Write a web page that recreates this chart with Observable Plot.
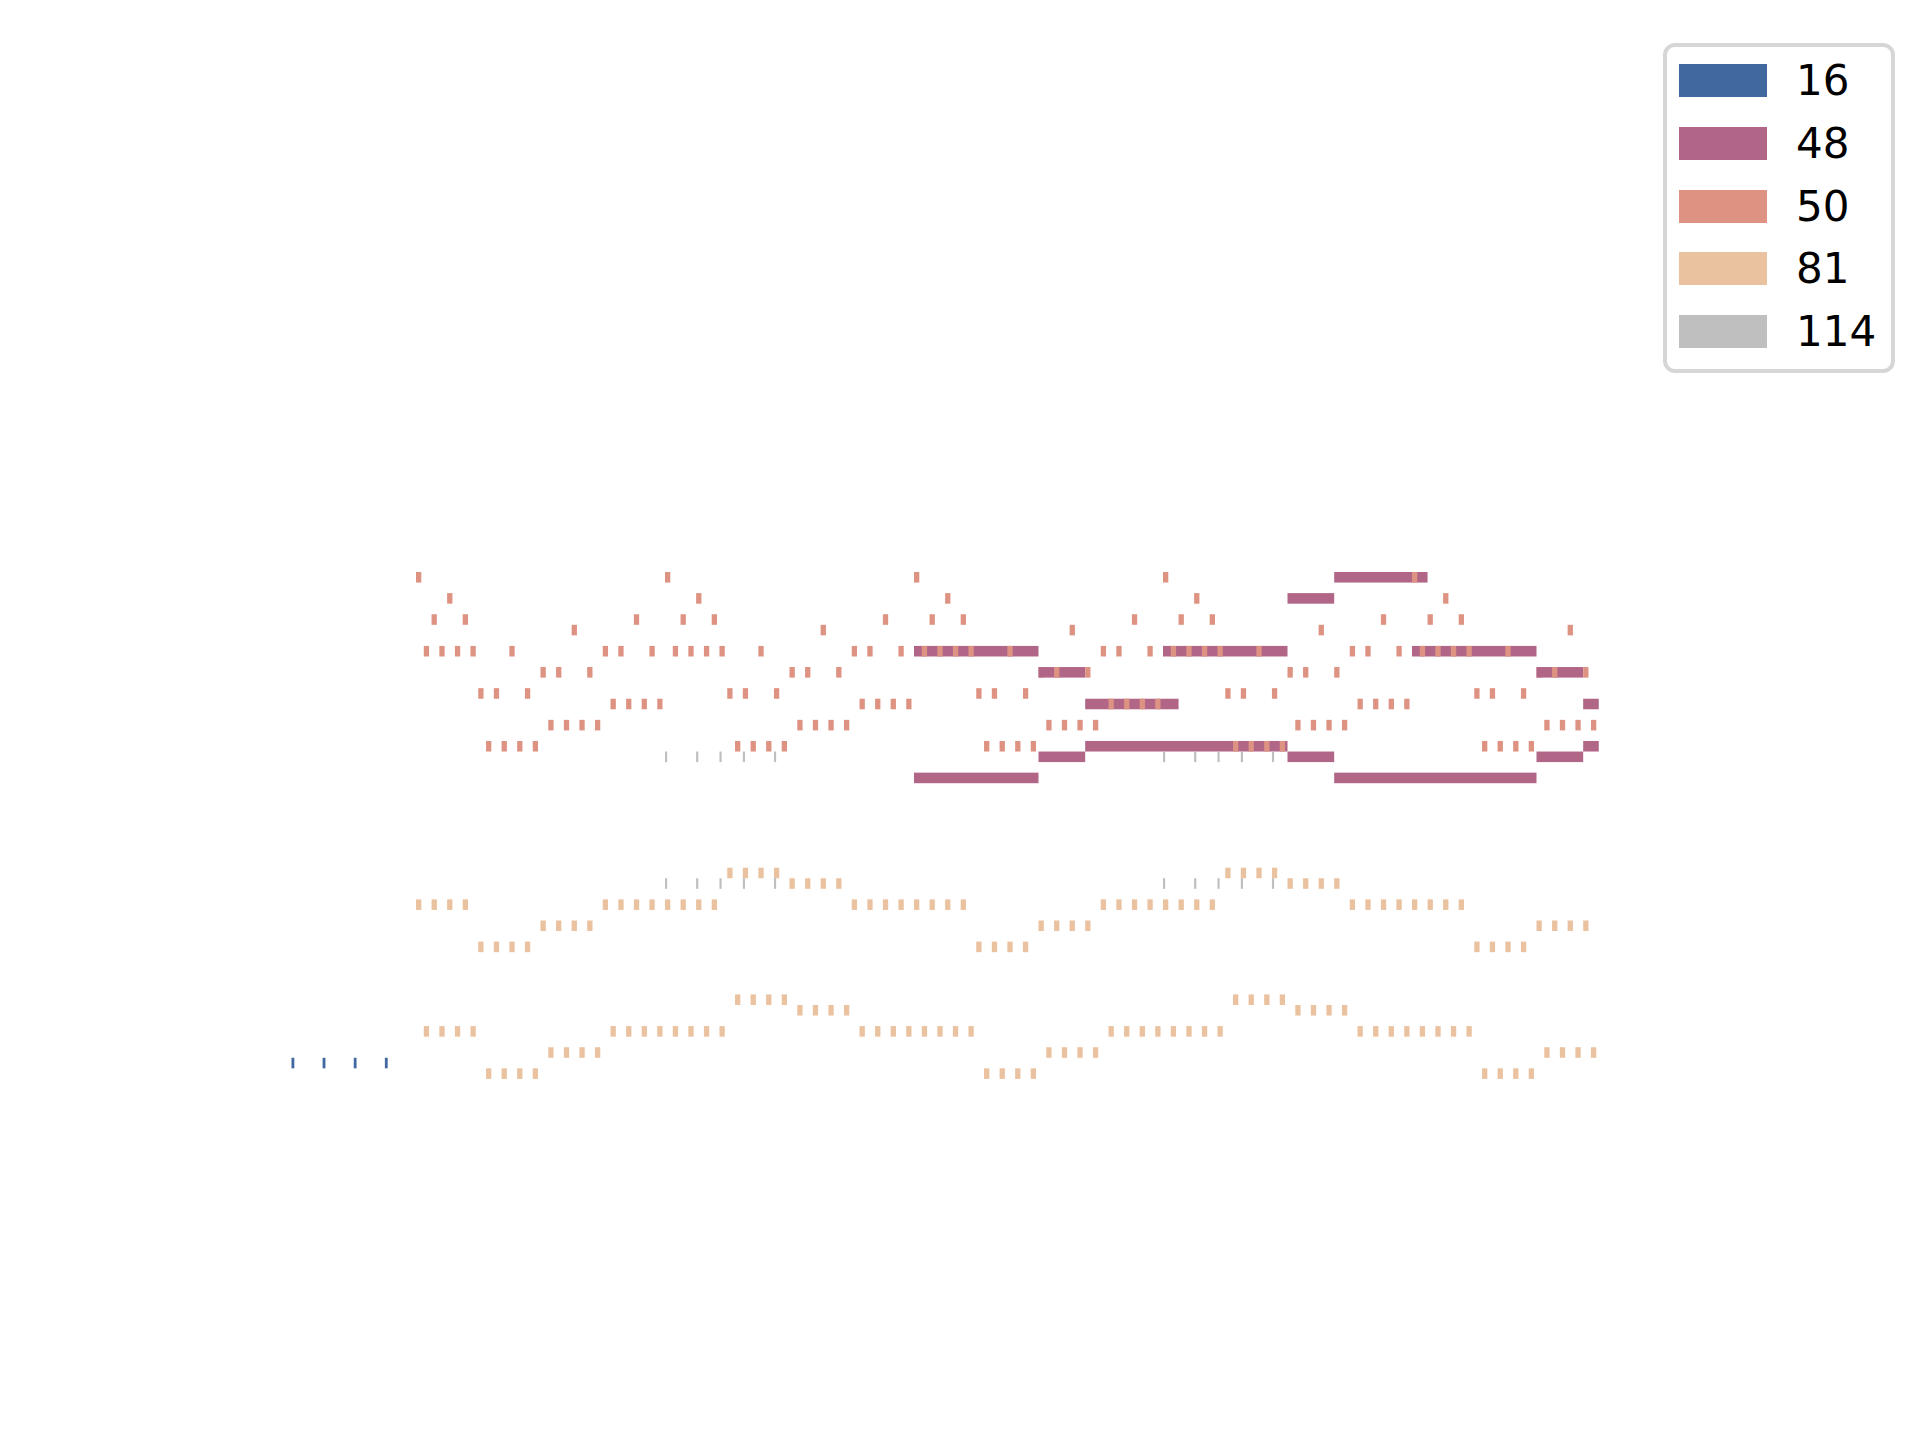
<!DOCTYPE html>
<html>
<head>
<meta charset="utf-8">
<script src="https://cdn.jsdelivr.net/npm/d3@7"></script>
<script src="https://cdn.jsdelivr.net/npm/@observablehq/plot@0.6"></script>
<style>
  html, body { margin: 0; padding: 0; background: #ffffff; }
  #wrap { position: relative; width: 1920px; height: 1440px; background: #ffffff; }
  #legend {
    position: absolute; left: 1663px; top: 43px; width: 232px; height: 330px;
    box-sizing: border-box; border: 4px solid #d6d6d6; border-radius: 12px;
    background: #ffffff; padding: 17px 0 0 12px;
    font-family: "DejaVu Sans", sans-serif; font-size: 42px; color: #000;
  }
  .item { display: flex; align-items: flex-start; height: 33px; margin-bottom: 29.75px; }
  .sw { width: 88px; height: 33px; flex: none; }
  .lab { margin-left: 29px; line-height: 33px; height: 33px; white-space: nowrap; }
</style>
</head>
<body>
<div id="wrap"></div>
<script>
// Instruments (MIDI program numbers) and their colours
const programs = [16, 48, 50, 81, 114];
const colors = ["#41699f", "#b16688", "#de9282", "#ebc29f", "#bfbfbf"];

// Program 16: [start (beats), pitch]
const notes16 = [[0, 30], [1, 30], [2, 30], [3, 30]];
const dur16 = 0.09;

// Program 48: [start, pitch, duration]
const notes48 = [
  [20, 69, 4], [20, 57, 4],
  [24, 67, 1.5], [24, 59, 1.5],
  [25.5, 64, 3], [25.5, 60, 6.5],
  [28, 69, 4],
  [32, 74, 1.5], [32, 59, 1.5],
  [33.5, 76, 3], [33.5, 57, 6.5],
  [36, 69, 4],
  [40, 67, 1.5], [40, 59, 1.5],
  [41.5, 64, 0.5], [41.5, 60, 0.5]
];

// Program 50: [start, pitch]
const notes50 = [
  [4,76],[4.25,69],[4.5,72],[4.75,69],[5,74],[5.25,69],[5.5,72],[5.75,69],[6,65],[6.25,60],[6.5,65],[6.75,60],[7,69],[7.25,60],[7.5,65],[7.75,60],
  [8,67],[8.25,62],[8.5,67],[8.75,62],[9,71],[9.25,62],[9.5,67],[9.75,62],[10,69],[10.25,64],[10.5,69],[10.75,64],[11,72],[11.25,64],[11.5,69],[11.75,64],
  [12,76],[12.25,69],[12.5,72],[12.75,69],[13,74],[13.25,69],[13.5,72],[13.75,69],[14,65],[14.25,60],[14.5,65],[14.75,60],[15,69],[15.25,60],[15.5,65],[15.75,60],
  [16,67],[16.25,62],[16.5,67],[16.75,62],[17,71],[17.25,62],[17.5,67],[17.75,62],[18,69],[18.25,64],[18.5,69],[18.75,64],[19,72],[19.25,64],[19.5,69],[19.75,64],
  [20,76],[20.25,69],[20.5,72],[20.75,69],[21,74],[21.25,69],[21.5,72],[21.75,69],[22,65],[22.25,60],[22.5,65],[22.75,60],[23,69],[23.25,60],[23.5,65],[23.75,60],
  [24,67],[24.25,62],[24.5,67],[24.75,62],[25,71],[25.25,62],[25.5,67],[25.75,62],[26,69],[26.25,64],[26.5,69],[26.75,64],[27,72],[27.25,64],[27.5,69],[27.75,64],
  [28,76],[28.25,69],[28.5,72],[28.75,69],[29,74],[29.25,69],[29.5,72],[29.75,69],[30,65],[30.25,60],[30.5,65],[30.75,60],[31,69],[31.25,60],[31.5,65],[31.75,60],
  [32,67],[32.25,62],[32.5,67],[32.75,62],[33,71],[33.25,62],[33.5,67],[33.75,62],[34,69],[34.25,64],[34.5,69],[34.75,64],[35,72],[35.25,64],[35.5,69],[35.75,64],
  [36,76],[36.25,69],[36.5,72],[36.75,69],[37,74],[37.25,69],[37.5,72],[37.75,69],[38,65],[38.25,60],[38.5,65],[38.75,60],[39,69],[39.25,60],[39.5,65],[39.75,60],
  [40,67],[40.25,62],[40.5,67],[40.75,62],[41,71],[41.25,62],[41.5,67],[41.75,62]
];
const dur50 = 0.17;

// Program 81: [start, pitch]
const notes81 = [
  [4,45],[4.5,45],[5,45],[5.5,45],[6,41],[6.5,41],[7,41],[7.5,41],[8,43],[8.5,43],[9,43],[9.5,43],
  [10,45],[10.5,45],[11,45],[11.5,45],[12,45],[12.5,45],[13,45],[13.5,45],[14,48],[14.5,48],[15,48],[15.5,48],
  [16,47],[16.5,47],[17,47],[17.5,47],[18,45],[18.5,45],[19,45],[19.5,45],[20,45],[20.5,45],[21,45],[21.5,45],
  [22,41],[22.5,41],[23,41],[23.5,41],[24,43],[24.5,43],[25,43],[25.5,43],
  [26,45],[26.5,45],[27,45],[27.5,45],[28,45],[28.5,45],[29,45],[29.5,45],[30,48],[30.5,48],[31,48],[31.5,48],
  [32,47],[32.5,47],[33,47],[33.5,47],[34,45],[34.5,45],[35,45],[35.5,45],[36,45],[36.5,45],[37,45],[37.5,45],
  [38,41],[38.5,41],[39,41],[39.5,41],[40,43],[40.5,43],[41,43],[41.5,43],
  [4.25,33],[4.75,33],[5.25,33],[5.75,33],[6.25,29],[6.75,29],[7.25,29],[7.75,29],[8.25,31],[8.75,31],[9.25,31],[9.75,31],
  [10.25,33],[10.75,33],[11.25,33],[11.75,33],[12.25,33],[12.75,33],[13.25,33],[13.75,33],[14.25,36],[14.75,36],[15.25,36],[15.75,36],
  [16.25,35],[16.75,35],[17.25,35],[17.75,35],[18.25,33],[18.75,33],[19.25,33],[19.75,33],[20.25,33],[20.75,33],[21.25,33],[21.75,33],
  [22.25,29],[22.75,29],[23.25,29],[23.75,29],[24.25,31],[24.75,31],[25.25,31],[25.75,31],
  [26.25,33],[26.75,33],[27.25,33],[27.75,33],[28.25,33],[28.75,33],[29.25,33],[29.75,33],[30.25,36],[30.75,36],[31.25,36],[31.75,36],
  [32.25,35],[32.75,35],[33.25,35],[33.75,35],[34.25,33],[34.75,33],[35.25,33],[35.75,33],[36.25,33],[36.75,33],[37.25,33],[37.75,33],
  [38.25,29],[38.75,29],[39.25,29],[39.75,29],[40.25,31],[40.75,31],[41.25,31],[41.75,31]
];
const dur81 = 0.17;

// Program 114: [start, pitch]
const notes114 = [
  [12,59],[13,59],[13.75,59],[14.5,59],[15.5,59],
  [12,47],[13,47],[13.75,47],[14.5,47],[15.5,47],
  [28,59],[29,59],[29.75,59],[30.5,59],[31.5,59],
  [28,47],[29,47],[29.75,47],[30.5,47],[31.5,47]
];
const dur114 = 0.07;

// Build one table of notes, drawn in order of start time
const table = [
  ...notes16.map(([t, p]) => ({t, p, d: dur16, prog: 16})),
  ...notes50.map(([t, p]) => ({t, p, d: dur50, prog: 50})),
  ...notes81.map(([t, p]) => ({t, p, d: dur81, prog: 81})),
  ...notes114.map(([t, p]) => ({t, p, d: dur114, prog: 114})),
  ...notes48.map(([t, p, d]) => ({t, p, d, prog: 48}))
];
const order = new Map([[16, 0], [50, 1], [81, 2], [114, 3], [48, 4]]);
table.sort((a, b) => (a.t - b.t) || (order.get(a.prog) - order.get(b.prog)));

const chart = Plot.plot({
  width: 1920,
  height: 1440,
  marginLeft: 291.5,
  marginRight: 321.25,
  marginTop: 572,
  marginBottom: 361.1,
  x: {domain: [0, 42], axis: null},
  y: {domain: [29, 77], axis: null},
  color: {type: "ordinal", domain: programs, range: colors},
  style: {background: "#ffffff"},
  marks: [
    Plot.rect(table, {
      x1: "t",
      x2: d => d.t + d.d,
      y1: "p",
      y2: d => d.p + 1,
      fill: "prog",
      sort: null
    })
  ]
});

const wrap = document.getElementById("wrap");
wrap.appendChild(chart);

// Legend
const legend = document.createElement("div");
legend.id = "legend";
programs.forEach((prog, i) => {
  const item = document.createElement("div");
  item.className = "item";
  const sw = document.createElement("div");
  sw.className = "sw";
  sw.style.background = colors[i];
  const lab = document.createElement("div");
  lab.className = "lab";
  lab.textContent = String(prog);
  item.appendChild(sw);
  item.appendChild(lab);
  legend.appendChild(item);
});
wrap.appendChild(legend);
</script>
</body>
</html>
